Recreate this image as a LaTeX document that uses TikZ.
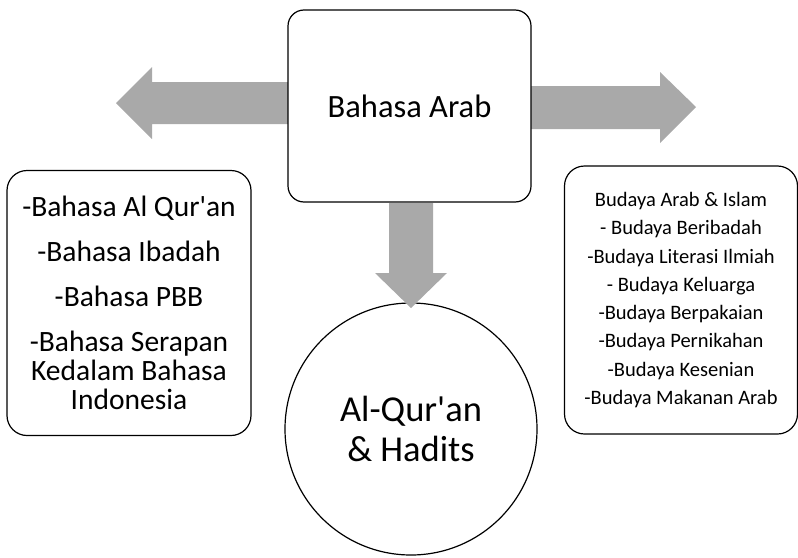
\documentclass[tikz,border=0pt]{standalone}
\usepackage{fontspec}
\setmainfont{Carlito}
\begin{document}
\begin{tikzpicture}[x=1pt,y=-1pt,
  box/.style={draw=black,line width=1.2pt,fill=white,rounded corners=16pt,inner sep=0pt,align=center},
  bigarrow/.style={fill=arrowgray,draw=none}]
\definecolor{arrowgray}{HTML}{A9A9A9}
\useasboundingbox (0,0) rectangle (798,557);
% arrows behind top box
\fill[bigarrow] (300,82) -- (152,82) -- (152,67) -- (116,103) -- (152,139) -- (152,124) -- (300,124) -- cycle;
\fill[bigarrow] (520,86) -- (660,86) -- (660,72) -- (696,107) -- (660,143) -- (660,129) -- (520,129) -- cycle;
\node[box,minimum width=243pt,minimum height=192pt,font=\fontsize{32.5}{36}\selectfont] (top) at (409.5,106) {Bahasa Arab};
\node[box,rounded corners=20pt,minimum width=244pt,minimum height=265pt,font=\fontsize{29.5}{29}\selectfont] (left) at (129,303)
  {-Bahasa Al Qur\textquotesingle an\\[16pt]-Bahasa Ibadah\\[16pt]-Bahasa PBB\\[16pt]-Bahasa Serapan\\Kedalam Bahasa\\Indonesia};
\node[box,rounded corners=20pt,minimum width=233pt,minimum height=268pt,font=\fontsize{20.5}{28.3}\selectfont] (right) at (681,300)
  {Budaya Arab \& Islam\\- Budaya Beribadah\\-Budaya Literasi Ilmiah\\- Budaya Keluarga\\-Budaya Berpakaian\\-Budaya Pernikahan\\-Budaya Kesenian\\-Budaya Makanan Arab};
\node[draw=black,line width=1.2pt,fill=white,circle,minimum size=252pt,inner sep=0pt,align=center,font=\fontsize{36.5}{40}\selectfont] (quran) at (411,429) {Al-Qur\textquotesingle an\\\& Hadits};
\fill[bigarrow] (389,203) -- (433,203) -- (433,273) -- (447,273) -- (411,308) -- (375,273) -- (389,273) -- cycle;
\end{tikzpicture}
\end{document}
